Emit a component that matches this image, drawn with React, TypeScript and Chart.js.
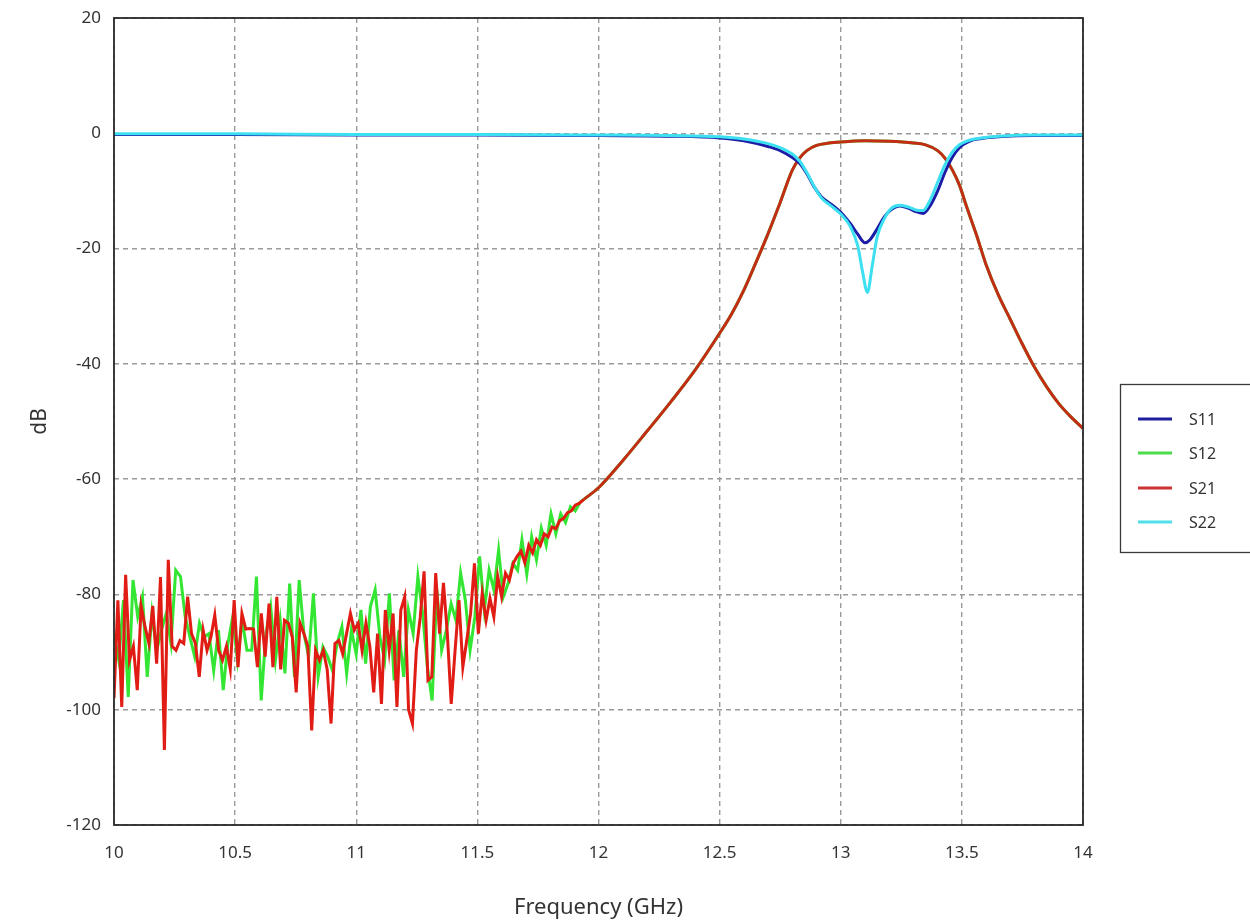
import React, { useEffect, useRef } from "react";
import { Chart, registerables } from "chart.js";

Chart.register(...registerables);

// ---- Data ----
const seriesNames = ["S11", "S12", "S21", "S22"];
const seriesColors = ["#1c1ca6", "#33e633", "#e01c14", "#3ce0f0"];
const legendColors = ["#1e1e9c", "#4cdc4c", "#cc3333", "#50e0ea"];
const s21SmoothColor = "#c42c16";

// Noisy low-band samples (uniformly stepped from 10 GHz)
const noiseStartGHz = 10.0;
const s21NoiseStep = 0.016;
const s21Noise = [
  -98, -81, -99.5, -76.6, -91.4, -89, -96.6, -82, -85.6, -88.5,
  -82, -92, -77, -107, -74, -89, -89.7, -88, -88.5, -80.4,
  -86.8, -88.5, -94.3, -86.2, -89.7, -87.4, -83.6, -89.7, -91.4, -89,
  -93, -81, -92.6, -83.3, -86, -85.9, -86, -92.6, -83.3, -90.8,
  -81.6, -92.6, -80.4, -93, -84.5, -85, -87.4, -97, -85, -86.8,
  -89, -103.6, -89.7, -91.4, -89.7, -93, -102.4, -88.5, -88, -90.3,
  -86.8, -83.3, -86.2, -85, -89.7, -85, -89, -97, -86.8, -99,
  -82.7, -89.7, -83.3, -99.5, -82.7, -80.4, -100, -102.4, -89.7, -84,
  -76, -94.9, -94.3, -76.3, -86.8, -78, -86.8, -99, -89.7, -81,
  -92.6, -88, -83.3, -74.6, -86.8, -79.8, -84.5, -80.7, -83.9, -76.9,
  -80.4, -76.3, -77.5, -74.6, -73.4,
];
const s12NoiseStep = 0.0196;
const s12Noise = [
  -86.8, -91.4, -81.0, -97.8, -77.5, -83.9, -80.4, -94.3, -83.3, -89.7,
  -86.2, -83.3, -88.5, -75.8, -76.9, -83.9, -87.4, -90.8, -85.0, -87.4,
  -86.8, -93.2, -86.2, -96.6, -88.5, -83.9, -91.4, -84.5, -89.7, -89.7,
  -76.9, -98.4, -86.8, -82.1, -91.4, -84.5, -93.7, -78.1, -94.3, -77.5,
  -86.8, -90.8, -79.8, -94.3, -89.1, -90.8, -93.2, -88.5, -85.6, -93.7,
  -86.2, -90.3, -82.7, -92.0, -82.1, -79.2, -87.4, -91.4, -79.8, -94.9,
  -86.2, -94.3, -82.7, -86.8, -76.9, -83.3, -92.6, -98.4, -79.2, -89.7,
  -86.2, -81.6, -84.5, -76.3, -81.0, -89.7, -83.9, -73.4, -82.7, -75.8,
  -79.2, -72.3, -80.4, -78.1, -74.6, -75.8,
];

// Transition (noise dying out)
const s21TailFreq = [11.68, 11.696, 11.712, 11.728, 11.744, 11.76, 11.776, 11.792, 11.808, 11.824, 11.84, 11.856, 11.872, 11.888, 11.904, 11.92, 11.94];
const s21TailVals = [-72.5, -74.5, -71.5, -72.8, -70.5, -71.5, -69.5, -70.0, -68.3, -68.6, -67.2, -66.8, -65.8, -65.5, -64.5, -64.2, -63.5];
const s12TailFreq = [11.684, 11.704, 11.724, 11.744, 11.764, 11.784, 11.804, 11.824, 11.844, 11.864, 11.884, 11.904, 11.924, 11.94];
const s12TailVals = [-70.5, -76.5, -70.0, -74.0, -68.5, -71.5, -66.0, -69.5, -66.0, -67.5, -64.8, -65.5, -64.0, -63.5];

// Smooth transmission (S21 = S12)
const transFreq = [11.94, 12.0, 12.1, 12.2, 12.3, 12.4, 12.5, 12.55, 12.6, 12.65, 12.7, 12.75, 12.8, 12.83, 12.86, 12.9, 12.95, 13.0, 13.1, 13.2, 13.3, 13.35, 13.4, 13.43, 13.46, 13.49, 13.52, 13.56, 13.6, 13.65, 13.7, 13.75, 13.8, 13.85, 13.9, 13.95, 14.0];
const transVals = [-63.5, -61.5, -56.8, -51.7, -46.5, -41.0, -34.7, -31.3, -27.2, -22.4, -17.4, -12.0, -6.4, -4.3, -3.0, -2.1, -1.7, -1.5, -1.3, -1.4, -1.7, -2.0, -3.0, -4.3, -6.3, -9.0, -12.8, -17.6, -22.8, -28.0, -32.3, -36.6, -40.6, -44.0, -46.9, -49.2, -51.2];

// Reflection
const s11Freq = [10.0, 10.5, 11.0, 11.5, 12.0, 12.3, 12.5, 12.6, 12.7, 12.75, 12.8, 12.83, 12.86, 12.89, 12.92, 12.96, 13.0, 13.04, 13.07, 13.1, 13.12, 13.15, 13.18, 13.21, 13.245, 13.28, 13.31, 13.34, 13.37, 13.4, 13.43, 13.46, 13.49, 13.53, 13.58, 13.65, 13.8, 14.0];
const s11Vals = [-0.2, -0.2, -0.3, -0.3, -0.4, -0.5, -0.8, -1.3, -2.3, -3.0, -4.2, -5.2, -7.0, -9.3, -11.0, -12.3, -13.7, -15.7, -17.5, -19.0, -18.5, -16.6, -14.5, -13.2, -12.6, -13.0, -13.6, -13.9, -12.5, -10.0, -6.8, -4.2, -2.5, -1.4, -0.9, -0.6, -0.4, -0.4];
const s22Freq = [10.0, 10.5, 11.0, 11.5, 12.0, 12.3, 12.5, 12.6, 12.7, 12.75, 12.8, 12.83, 12.86, 12.89, 12.92, 12.96, 13.0, 13.04, 13.07, 13.09, 13.11, 13.13, 13.15, 13.18, 13.21, 13.245, 13.28, 13.31, 13.34, 13.37, 13.4, 13.43, 13.46, 13.49, 13.53, 13.58, 13.65, 13.8, 14.0];
const s22Vals = [-0.1, -0.1, -0.2, -0.2, -0.3, -0.4, -0.6, -1.0, -1.8, -2.5, -3.6, -4.8, -6.8, -9.2, -11.2, -12.6, -14.0, -16.2, -19.5, -24.0, -27.6, -23.0, -18.0, -14.8, -13.0, -12.5, -12.8, -13.3, -13.4, -11.5, -8.5, -5.5, -3.3, -2.0, -1.2, -0.8, -0.5, -0.3, -0.3];

const xMin = 10, xMax = 14, xStep = 0.5;
const yMin = -120, yMax = 20, yStep = 20;

const FONT = "'Noto Sans', 'Open Sans', sans-serif";

function pairs(f: number[], v: number[]) {
  return f.map((x, i) => ({ x, y: v[i] }));
}
function stepped(start: number, step: number, v: number[]) {
  return v.map((y, i) => ({ x: start + i * step, y }));
}

const framePlugin = {
  id: "frameAndLegend",
  afterDraw(chart: any) {
    const { ctx, chartArea } = chart;
    ctx.save();
    ctx.strokeStyle = "#2a2a2a";
    ctx.lineWidth = 1.8;
    ctx.strokeRect(chartArea.left, chartArea.top, chartArea.right - chartArea.left, chartArea.bottom - chartArea.top);
    // legend box
    ctx.lineWidth = 1.3;
    ctx.strokeStyle = "#3a3a3a";
    ctx.strokeRect(1120.5, 384.5, 140, 168);
    ctx.font = `16px ${FONT}`;
    ctx.textBaseline = "middle";
    ctx.fillStyle = "#333333";
    const ys = [419, 453, 488, 522];
    seriesNames.forEach((name, i) => {
      ctx.strokeStyle = legendColors[i];
      ctx.lineWidth = 3;
      ctx.beginPath();
      ctx.moveTo(1138, ys[i]);
      ctx.lineTo(1172, ys[i]);
      ctx.stroke();
      ctx.fillText(name, 1189, ys[i] + 1);
    });
    ctx.restore();
  },
};

export default function App() {
  const ref = useRef<HTMLCanvasElement | null>(null);
  useEffect(() => {
    document.body.style.margin = "0";
    const smooth = { pointRadius: 0, borderWidth: 3, fill: false, cubicInterpolationMode: "monotone" as const };
    const sharp = { pointRadius: 0, borderWidth: 3, fill: false, tension: 0 };
    const chart = new Chart(ref.current as HTMLCanvasElement, {
      type: "line",
      data: {
        datasets: [
          { label: seriesNames[0], data: pairs(s11Freq, s11Vals), borderColor: seriesColors[0], order: 1, ...smooth },
          {
            label: seriesNames[1] + " noise",
            data: [...stepped(noiseStartGHz, s12NoiseStep, s12Noise), ...pairs(s12TailFreq, s12TailVals)],
            borderColor: seriesColors[1], order: 4, ...sharp,
          },
          { label: seriesNames[1], data: pairs(transFreq, transVals), borderColor: seriesColors[1], order: 4, ...smooth },
          {
            label: seriesNames[2] + " noise",
            data: [...stepped(noiseStartGHz, s21NoiseStep, s21Noise), ...pairs(s21TailFreq, s21TailVals)],
            borderColor: seriesColors[2], order: 2, ...sharp,
          },
          { label: seriesNames[2], data: pairs(transFreq, transVals), borderColor: s21SmoothColor, order: 2, ...smooth },
          { label: seriesNames[3], data: pairs(s22Freq, s22Vals), borderColor: seriesColors[3], order: 0, ...smooth },
        ],
      },
      options: {
        animation: false,
        responsive: false,
        maintainAspectRatio: false,
        layout: { padding: { left: 0, top: 18, right: 167, bottom: 0 } },
        plugins: { legend: { display: false }, tooltip: { enabled: false } },
        scales: {
          x: {
            type: "linear",
            min: xMin,
            max: xMax,
            afterFit: (s: any) => { s.height = 96; s.paddingLeft = 0; s.paddingRight = 0; },
            ticks: { stepSize: xStep, color: "#333333", font: { size: 17, family: FONT }, padding: 18, maxRotation: 0, callback: (v: any) => String(Number(v)) },
            grid: { color: "#9a9a9a", lineWidth: 1.4, drawTicks: false },
            border: { display: false, dash: [5, 4] },
            title: { display: true, text: "Frequency (GHz)", color: "#333333", font: { size: 22, family: FONT }, padding: { top: 0, bottom: 0 } },
          },
          y: {
            type: "linear",
            min: yMin,
            max: yMax,
            afterFit: (s: any) => { s.width = 114; s.paddingTop = 0; s.paddingBottom = 0; },
            ticks: { stepSize: yStep, color: "#333333", font: { size: 17, family: FONT }, padding: 13 },
            grid: { color: "#9a9a9a", lineWidth: 1.4, drawTicks: false },
            border: { display: false, dash: [5, 4] },
            title: { display: true, text: "dB", color: "#333333", font: { size: 21, family: FONT }, padding: { top: 27, bottom: 0 } },
          },
        },
      },
      plugins: [framePlugin],
    });
    return () => chart.destroy();
  }, []);
  return (
    <div style={{ width: 1250, height: 921, background: "#ffffff" }}>
      <canvas ref={ref} width={1250} height={921} style={{ display: "block" }} />
    </div>
  );
}
